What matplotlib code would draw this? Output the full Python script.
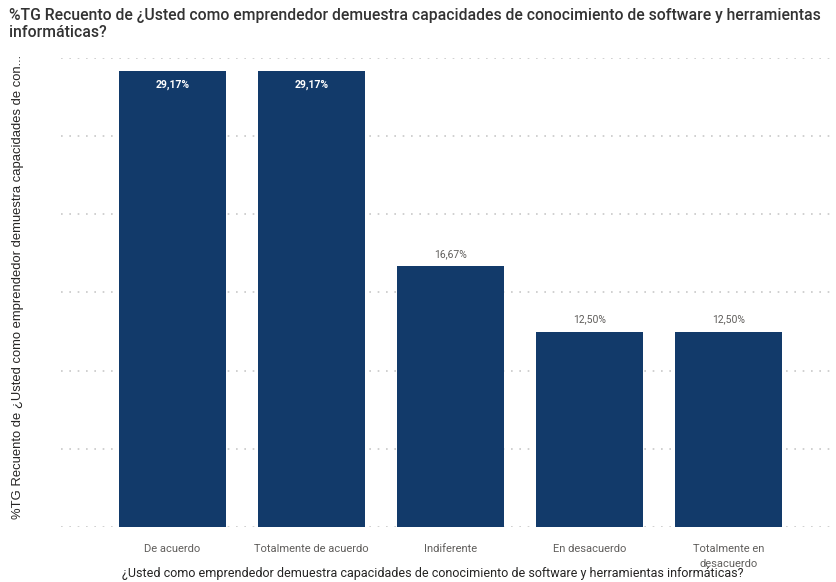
import matplotlib
matplotlib.use("Agg")
import matplotlib.pyplot as plt


# Survey answers and their share of responses (%)
categorias = [
    "De acuerdo",
    "Totalmente de acuerdo",
    "Indiferente",
    "En desacuerdo",
    "Totalmente en\ndesacuerdo",
]
porcentajes = [29.17, 29.17, 16.67, 12.50, 12.50]
y_ticks = [0, 5, 10, 15, 20, 25, 30]

titulo = ("%TG Recuento de ¿Usted como emprendedor demuestra capacidades de conocimiento de software y herramientas\n"
          "informáticas?")
etiqueta_y = "%TG Recuento de ¿Usted como emprendedor demuestra capacidades de con..."
etiqueta_x = "¿Usted como emprendedor demuestra capacidades de conocimiento de software y herramientas informáticas?"

bar_color = "#123A6A"
text_dark = "#252423"
text_gray = "#605E5C"

fig = plt.figure(figsize=(8.36, 5.82), dpi=100)
ax = fig.add_axes([0.073, 0.094, 0.927, 0.807])

x = range(len(categorias))
bars = ax.bar(x, porcentajes, width=0.77, color=bar_color, zorder=3)

ax.set_ylim(0, 30)
ax.set_xlim(-0.80, 4.775)
ax.set_yticks(y_ticks)
ax.set_yticklabels([])
ax.tick_params(axis="y", length=0)
ax.yaxis.grid(True, linestyle=(0, (1, 4)), color="#C8C8C8", linewidth=1.2, zorder=0)
for s in ax.spines.values():
    s.set_visible(False)

ax.set_xticks(list(x))
ax.set_xticklabels(categorias, fontsize=8, color=text_gray,
                   family=["Liberation Sans Narrow", "Roboto"], linespacing=1.6)
ax.tick_params(axis="x", length=0, pad=12)

# value labels: inside the tall bars, above the short ones
for b, v in zip(bars, porcentajes):
    label = f"{v:.2f}%".replace(".", ",")
    cx = b.get_x() + b.get_width() / 2
    if v > 25:
        ax.text(cx, v - 0.55, label, ha="center", va="top", fontsize=7.5,
                color="white", fontweight="bold", family=["Roboto"])
    else:
        ax.text(cx, v + 0.45, label, ha="center", va="bottom", fontsize=7.5,
                color=text_gray, family=["Roboto"])

fig.text(0.011, 0.986, titulo, ha="left", va="top", fontsize=11.3,
         color="#333333", family=["Roboto"], fontweight="medium", linespacing=1.12)

fig.text(0.022, 0.507, etiqueta_y, rotation=90, ha="center", va="center",
         fontsize=9.4, color=text_dark, family=["Liberation Sans"])

fig.text(0.518, 0.003, etiqueta_x, ha="center", va="bottom", fontsize=9.0,
         color=text_dark, family=["Roboto"])

fig.savefig("out.png", dpi=100, facecolor="white")
